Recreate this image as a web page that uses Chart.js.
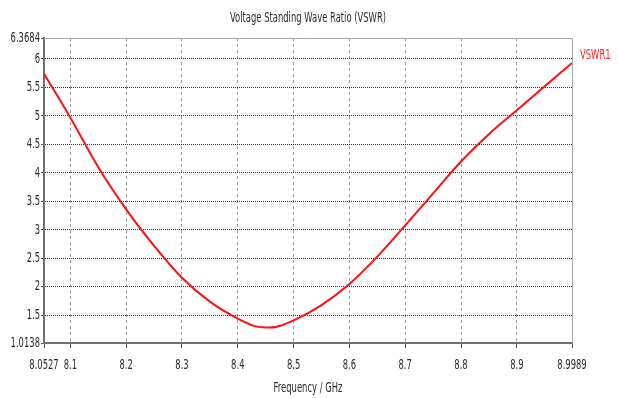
<!DOCTYPE html>
<html>
<head>
<meta charset="utf-8">
<script src="https://cdn.jsdelivr.net/npm/chart.js@4"></script>
<style>
  html, body { margin: 0; padding: 0; background: #fff; }
  #wrap { width: 618px; height: 398px; }
</style>
</head>
<body>
<div id="wrap"><canvas id="vswrChart"></canvas></div>
<script>
// Frequency sweep (GHz) and VSWR readings
const freqGHz = [8.0527, 8.1, 8.15, 8.2, 8.25, 8.3, 8.35, 8.4, 8.43, 8.45, 8.47, 8.5, 8.55, 8.6, 8.65, 8.7, 8.75, 8.8, 8.85, 8.9, 8.95, 8.9989];
const vswr1   = [5.74, 4.97, 4.10, 3.36, 2.72, 2.16, 1.74, 1.44, 1.31, 1.285, 1.30, 1.41, 1.68, 2.05, 2.53, 3.08, 3.64, 4.20, 4.68, 5.10, 5.52, 5.93];

const xTicks = [8.0527, 8.1, 8.2, 8.3, 8.4, 8.5, 8.6, 8.7, 8.8, 8.9, 8.9989];
const yTicks = [1.0138, 1.5, 2, 2.5, 3, 3.5, 4, 4.5, 5, 5.5, 6, 6.3684];

const chartTitle = 'Voltage Standing Wave Ratio (VSWR)';
const xTitle = 'Frequency / GHz';

const FONT = "14px 'DejaVu Sans', sans-serif";
const SQUEEZE = 0.6; // the original labels are a narrow face

function narrowText(ctx, text, x, y, align, color) {
    ctx.save();
    ctx.translate(x, y);
    ctx.scale(SQUEEZE, 1);
    ctx.font = FONT;
    ctx.fillStyle = color;
    ctx.textAlign = align;
    ctx.textBaseline = 'middle';
    ctx.fillText(text, 0, 0);
    ctx.restore();
}

// frame, tick labels, titles and series name
const labelPlugin = {
    id: 'labels',
    beforeDatasetsDraw(chart) {
        const { ctx, chartArea: a } = chart;
        ctx.save();
        ctx.strokeStyle = '#a8a8a8';
        ctx.lineWidth = 1;
        ctx.beginPath();
        ctx.moveTo(a.left, a.top + 0.5);
        ctx.lineTo(a.right + 0.5, a.top + 0.5);
        ctx.lineTo(a.right + 0.5, a.bottom);
        ctx.stroke();
        ctx.restore();
    },
    afterDraw(chart) {
        const { ctx, chartArea: a, scales } = chart;
        const txt = '#2a2a2a';
        yTicks.forEach(v => narrowText(ctx, String(v), a.left - 4, scales.y.getPixelForValue(v), 'right', txt));
        xTicks.forEach(v => narrowText(ctx, String(v), scales.x.getPixelForValue(v), a.bottom + 22, 'center', txt));
        const mid = (a.left + a.right) / 2;
        narrowText(ctx, chartTitle, mid, 18, 'center', txt);
        narrowText(ctx, xTitle, mid, 388, 'center', txt);
        const ds = chart.data.datasets[0];
        const yLast = scales.y.getPixelForValue(ds.data[ds.data.length - 1].y);
        narrowText(ctx, ds.label, a.right + 8, yLast - 8, 'left', '#ff2020');
    }
};

new Chart(document.getElementById('vswrChart'), {
    type: 'line',
    data: {
        datasets: [{
            label: 'VSWR1',
            data: freqGHz.map((f, i) => ({ x: f, y: vswr1[i] })),
            borderColor: '#ff1010',
            borderWidth: 2,
            pointRadius: 0,
            fill: false,
            cubicInterpolationMode: 'monotone'
        }]
    },
    options: {
        responsive: true,
        maintainAspectRatio: false,
        animation: false,
        layout: { padding: { top: 38, right: 46, bottom: 0, left: 0 } },
        plugins: {
            legend: { display: false },
            tooltip: { enabled: false },
            title: { display: false }
        },
        scales: {
            x: {
                type: 'linear',
                min: 8.0527,
                max: 8.9989,
                afterBuildTicks: s => { s.ticks = xTicks.map(v => ({ value: v })); },
                afterFit: s => { s.height = 55; },
                ticks: { display: false, autoSkip: false },
                grid: {
                    color: c => (c.index === 0 || c.index === xTicks.length - 1) ? 'rgba(0,0,0,0)' : '#9a9a9a',
                    tickColor: '#555',
                    tickBorderDash: [],
                    tickLength: 5,
                    drawTicks: true
                },
                border: { display: true, color: '#707070', width: 2, dash: [3, 3] }
            },
            y: {
                type: 'linear',
                min: 1.0138,
                max: 6.3684,
                afterBuildTicks: s => { s.ticks = yTicks.map(v => ({ value: v })); },
                afterFit: s => { s.width = 44; },
                ticks: { display: false, autoSkip: false },
                grid: {
                    color: c => (c.index === 0 || c.index === yTicks.length - 1) ? 'rgba(0,0,0,0)' : '#333',
                    tickColor: '#555',
                    tickBorderDash: [],
                    tickLength: 3,
                    drawTicks: true
                },
                border: { display: true, color: '#707070', width: 2, dash: [1, 1] }
            }
        }
    },
    plugins: [labelPlugin]
});
</script>
</body>
</html>
